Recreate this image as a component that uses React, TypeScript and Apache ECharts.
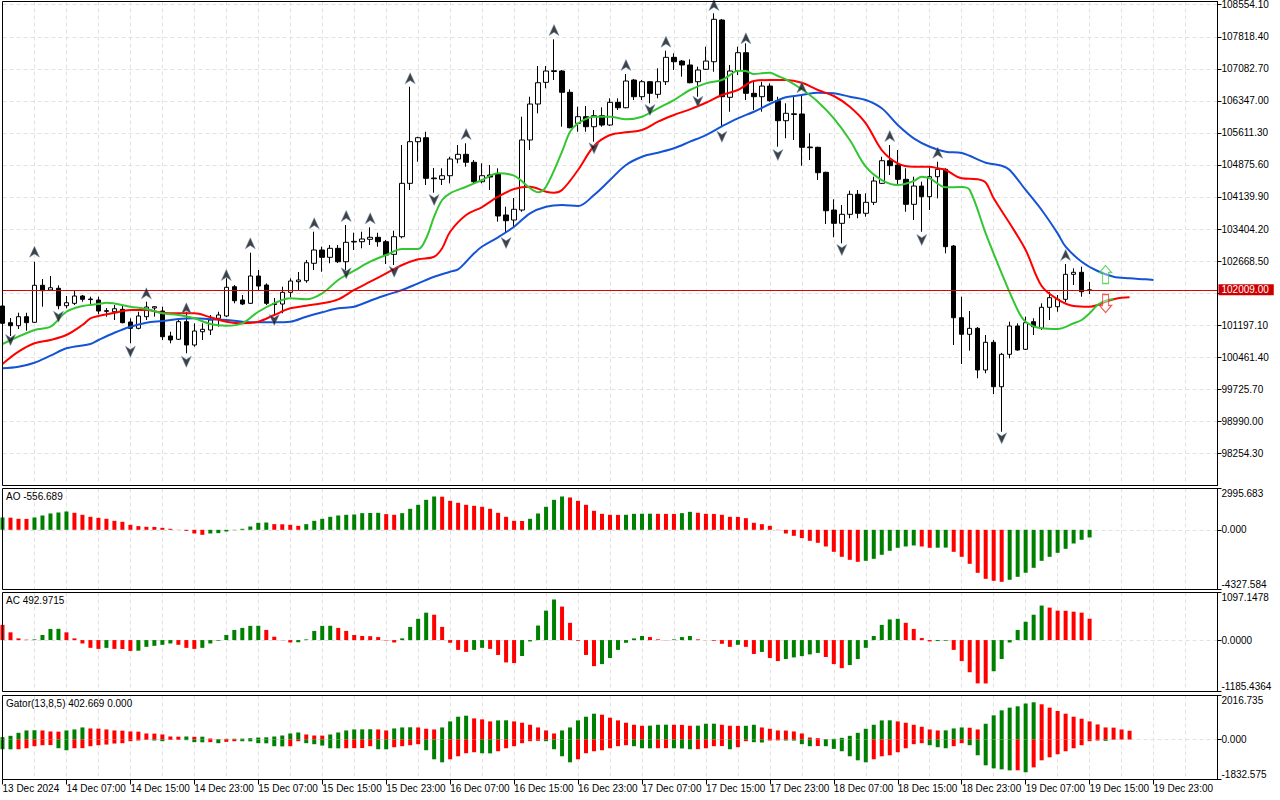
import React, { useEffect, useRef } from 'react';
import * as echarts from 'echarts';

// ---------- time slots (hourly bars, plus empty slots for the shifted Alligator lines) ----------
const START_DAY = 13;
const START_HOUR = 23;
const SLOT_COUNT = 153;
const CATEGORIES: string[] = [];
for (let i = 0; i < SLOT_COUNT; i++) {
  const h = START_HOUR + i;
  const d = START_DAY + Math.floor(h / 24);
  const hh = h % 24;
  CATEGORIES.push(i === 0 ? '13 Dec 2024' : `${d} Dec ${String(hh).padStart(2, '0')}:00`);
}
const LAST_LABEL_INDEX = 144;

// ---------- price candles: [open, close, low, high] ----------
const CANDLES: number[][] = [
  [101636, 101239, 101085, 101774], [101253, 101184, 100947, 101361], [101184, 101391, 101108, 101482],
  [101391, 101253, 101069, 101482], [101262, 102112, 101246, 102653], [102112, 101988, 101620, 102256],
  [102004, 102056, 101981, 102325], [102043, 101643, 101560, 102112], [101643, 101712, 101583, 101866],
  [101698, 101866, 101659, 101981], [101866, 101790, 101735, 101889], [101797, 101783, 101659, 101850],
  [101774, 101521, 101446, 101850], [101528, 101515, 101391, 101590], [101505, 101574, 101315, 101659],
  [101560, 101253, 101239, 101636], [101269, 101124, 100780, 101354], [101124, 101407, 101101, 101505],
  [101391, 101613, 101315, 101735], [101590, 101620, 101391, 101636], [101521, 100931, 100856, 101620],
  [100947, 100856, 100780, 101046], [100872, 101276, 100856, 101315], [101276, 100741, 100550, 101505],
  [100741, 101062, 100702, 101239], [101046, 101101, 100856, 101239], [101085, 101315, 100970, 101430],
  [101354, 101430, 101161, 101505], [101407, 102066, 101384, 102272], [102079, 101758, 101698, 102118],
  [101774, 101682, 101659, 101889], [101698, 102325, 101682, 102860], [102325, 102095, 102004, 102463],
  [102118, 101698, 101659, 102157], [101694, 101671, 101453, 101820], [101682, 101951, 101469, 102079],
  [101951, 102210, 101836, 102272], [102194, 102233, 102004, 102417], [102217, 102630, 102171, 102692],
  [102617, 102922, 102463, 103342], [102922, 102754, 102424, 102998], [102754, 102961, 102617, 103037],
  [102961, 102653, 102623, 103037], [102653, 103099, 102463, 103496], [103106, 103120, 102922, 103319],
  [103113, 103175, 102961, 103342], [103168, 103214, 103037, 103443], [103214, 103113, 102998, 103319],
  [103113, 102807, 102601, 103152], [102823, 103227, 102578, 103365], [103227, 104453, 103191, 105333],
  [104453, 105409, 104300, 106671], [105409, 105500, 104949, 105523], [105500, 104568, 104414, 105638],
  [104575, 104559, 104238, 104805], [104545, 104628, 104414, 104798], [104628, 105011, 104453, 105064],
  [105011, 105119, 104913, 105333], [105119, 104936, 104835, 105372], [104936, 104490, 104453, 104988],
  [104490, 104628, 104453, 104913], [104644, 104598, 104300, 104874], [104667, 103703, 103572, 104798],
  [103726, 103595, 103335, 103916], [103611, 103857, 103457, 104116], [103840, 105448, 103801, 105983],
  [105448, 106274, 105218, 106442], [106274, 106763, 106061, 107147], [106772, 107032, 106635, 107147],
  [107020, 107039, 106825, 107760], [107032, 106543, 105753, 107055], [106543, 105730, 105716, 106612],
  [105831, 105983, 105638, 106212], [105983, 105753, 105638, 106228], [105753, 106006, 105409, 106136],
  [106006, 105792, 105753, 106198], [105792, 106313, 105769, 106405], [106313, 106189, 106136, 106405],
  [106189, 106802, 106175, 106963], [106825, 106442, 106366, 106848], [106442, 106786, 106366, 106825],
  [106786, 106520, 106290, 106802], [106497, 106786, 106405, 107094], [106786, 107346, 106710, 107498],
  [107346, 107245, 107055, 107438], [107261, 107170, 106901, 107284], [107170, 106763, 106749, 107300],
  [106786, 107055, 106442, 107131], [107071, 107261, 107055, 107590], [107245, 108219, 107016, 108357],
  [108203, 106442, 105753, 108226], [106428, 107032, 106097, 107170], [107039, 107452, 106940, 107590],
  [107452, 106520, 106366, 107668], [106520, 106442, 106136, 106786], [106442, 106687, 106097, 106786],
  [106687, 106350, 106327, 106749], [106350, 105891, 105294, 106442], [105891, 106061, 105487, 106290],
  [106033, 106051, 105448, 106442], [106045, 105280, 104858, 106480], [105287, 105271, 104988, 105601],
  [105280, 104697, 104529, 105294], [104706, 103824, 103519, 104720], [103840, 103535, 103214, 104086],
  [103535, 103742, 103076, 103955], [103742, 104201, 103650, 104284], [104201, 103765, 103650, 104300],
  [103765, 104017, 103687, 104224], [104017, 104506, 103955, 104605], [104453, 104972, 104437, 105064],
  [104972, 104858, 104644, 105333], [104874, 104545, 104414, 105218], [104545, 103971, 103801, 104798],
  [103971, 104391, 103611, 104605], [104391, 104146, 103342, 104490], [104146, 104605, 103840, 104835],
  [104605, 104775, 104109, 104949], [104775, 102998, 102846, 104798], [103014, 101368, 100741, 103037],
  [101368, 100987, 100305, 101850], [100987, 101124, 100610, 101521], [101124, 100167, 99976, 101154],
  [100167, 100803, 100091, 100970], [100803, 99783, 99616, 100856], [99783, 100527, 98750, 100560],
  [100527, 101177, 100435, 101276], [101177, 100626, 100610, 101239], [100642, 101253, 100626, 101391],
  [101276, 101161, 100970, 101354], [101124, 101606, 101085, 101698], [101606, 101827, 101315, 101965],
  [101620, 101790, 101505, 101889], [101790, 102364, 101721, 102601], [102364, 102410, 102118, 102502],
  [102410, 101965, 101850, 102539], [101995, 102009, 101910, 102190],
];
const CURRENT_PRICE = 102009.0;

// ---------- Alligator lines, [bar index, price] ----------
const JAW: number[][] = [
  [0, 100206], [2, 100242], [4, 100334], [6, 100495], [8, 100665], [11, 100764], [12, 100856], [14, 101023],
  [16, 101161], [18, 101253], [20, 101292], [22, 101338], [24, 101354], [26, 101331], [28, 101315], [30, 101276],
  [32, 101262], [34, 101262], [36, 101276], [38, 101391], [40, 101492], [42, 101583], [44, 101620], [46, 101758],
  [48, 101889], [50, 102004], [52, 102157], [54, 102309], [56, 102424], [57, 102479], [58, 102653], [59, 102846],
  [60, 103002], [62, 103214], [64, 103457], [66, 103765], [68, 103916], [70, 103955], [72, 103932], [74, 104185],
  [76, 104529], [78, 104874], [80, 105064], [82, 105156], [84, 105257], [86, 105409], [88, 105562], [90, 105762],
  [92, 105946], [94, 106097], [96, 106274], [98, 106428], [100, 106481], [102, 106534], [104, 106520], [106, 106442],
  [108, 106366], [110, 106175], [112, 105792], [114, 105487], [116, 105294], [118, 105179], [120, 105149], [123, 104926],
  [125, 104858], [126, 104759], [128, 104300], [130, 103840], [132, 103305], [133, 102998], [135, 102653], [137, 102440],
  [139, 102309], [141, 102272], [143, 102249], [144, 102233],
];
const TEETH: number[][] = [
  [0, 100305], [2, 100587], [4, 100780], [6, 100856], [8, 100970], [10, 101200], [11, 101354], [12, 101407],
  [14, 101482], [16, 101544], [18, 101544], [20, 101482], [22, 101469], [24, 101469], [26, 101377], [28, 101276],
  [30, 101239], [32, 101276], [34, 101430], [36, 101583], [38, 101643], [40, 101698], [42, 101790], [44, 102004],
  [46, 102194], [48, 102387], [50, 102578], [52, 102708], [54, 102768], [55, 102961], [56, 103342], [58, 103726],
  [60, 103909], [62, 104146], [64, 104323], [66, 104375], [68, 104261], [69, 104238], [70, 104300], [72, 104759],
  [74, 105310], [76, 105562], [78, 105624], [80, 105677], [82, 105868], [84, 106022], [86, 106152], [88, 106304],
  [90, 106481], [92, 106596], [94, 106802], [96, 106825], [98, 106825], [100, 106763], [102, 106596], [104, 106458],
  [106, 106212], [108, 105831], [110, 105218], [112, 104913], [114, 104835], [116, 104835], [117, 104798], [118, 104759],
  [120, 104568], [122, 104545], [123, 104467], [124, 104109], [126, 103535], [128, 102922], [130, 102095], [132, 101790],
  [134, 101636], [136, 101620], [137, 101659], [138, 101735], [139, 101790], [140, 101827], [141, 101836],
];
const LIPS: number[][] = [
  [0, 100764], [4, 101085], [6, 101161], [8, 101505], [10, 101636], [12, 101682], [13, 101712], [16, 101620],
  [18, 101567], [20, 101469], [22, 101430], [24, 101354], [26, 101223], [28, 101184], [30, 101239], [32, 101505],
  [34, 101698], [36, 101813], [38, 101790], [40, 101928], [42, 102233], [44, 102447], [46, 102653], [48, 102807],
  [50, 102945], [52, 102945], [53, 103191], [54, 103687], [55, 104070], [56, 104224], [58, 104375], [60, 104529],
  [62, 104683], [64, 104628], [66, 104339], [67, 104247], [68, 104375], [70, 105179], [71, 105638], [72, 105831],
  [74, 105983], [76, 105983], [78, 105923], [80, 105983], [82, 106175], [84, 106366], [86, 106596], [88, 106749],
  [90, 106825], [91, 106940], [92, 107039], [93, 107032], [94, 106963], [95, 106979], [96, 106993], [97, 106917],
  [98, 106841], [100, 106612], [102, 106327], [104, 105946], [106, 105448], [108, 104835], [110, 104529], [112, 104414],
  [114, 104506], [115, 104605], [116, 104568], [118, 104362], [120, 104368], [121, 104300], [123, 103305], [125, 102387],
  [127, 101544], [128, 101276], [130, 101124], [132, 101108], [134, 101239], [135, 101315], [136, 101469], [137, 101659],
  [138, 101758], [139, 101790],
];

// ---------- fractal arrows, [bar index, price of the arrow] ----------
const FRACTALS_UP: number[][] = [
  [4, 102883], [18, 101928], [23, 101583], [28, 102348], [31, 103076], [39, 103535], [43, 103703], [46, 103650],
  [51, 106864], [58, 105585], [69, 107973], [78, 107170], [83, 107705], [89, 108547], [93, 107783], [100, 106658],
  [111, 105539], [117, 105156], [133, 102807],
];
const FRACTALS_DOWN: number[][] = [
  [1, 100856], [7, 101391], [16, 100587], [23, 100357], [34, 101315], [43, 102387], [49, 102424], [54, 104070],
  [63, 103083], [74, 105257], [81, 106136], [87, 106327], [90, 105523], [97, 105103], [105, 102922], [115, 103152],
  [125, 98599],
];
const SIGNAL_UP: number[][] = [[138, 102359]];
const SIGNAL_DOWN: number[][] = [[138, 101694]];

// ---------- Awesome Oscillator ----------
const AO_PREV = 850;
const AO: number[] = [
  894, 880, 798, 790, 894, 1039, 1184, 1257, 1329, 1233, 1088, 943, 870, 798, 653, 580, 363, 266, 218, 210,
  145, 73, 10, -73, -266, -363, -266, -240, -121, -24, 73, 242, 508, 530, 411, 400, 363, 290, 411, 653,
  798, 943, 1039, 1088, 1112, 1209, 1220, 1233, 1136, 1088, 1209, 1523, 1813, 2175, 2417, 2400, 2103, 1958, 1813, 1740,
  1668, 1523, 1233, 943, 653, 640, 798, 1184, 1668, 2175, 2417, 2345, 2103, 1813, 1378, 1160, 1088, 1080, 1090, 1160,
  1165, 1170, 1160, 1155, 1150, 1209, 1305, 1233, 1160, 1150, 1088, 943, 935, 846, 508, 411, 290, -20, -266, -435,
  -604, -798, -943, -1209, -1595, -1958, -2175, -2320, -2248, -2103, -1813, -1523, -1305, -1209, -1136, -1209, -1305, -1295, -1290, -1595,
  -1958, -2465, -3118, -3553, -3698, -3770, -3625, -3408, -3118, -2755, -2248, -1958, -1668, -1378, -991, -725, -556.689,
];
// ---------- Accelerator Oscillator ----------
const AC_PREV = 420;
const AC: number[] = [
  351, 179, 39, 10, 16, 117, 257, 260, 179, 39, -78, -179, -203, -179, -203, -206, -250, -245, -156, -133,
  -109, -78, -109, -179, -203, -179, -78, -16, 117, 234, 281, 328, 330, 234, 78, -5, -55, -50, 16, 211,
  328, 330, 281, 211, 117, 94, 90, 70, -10, -55, 39, 304, 491, 632, 585, 304, -62, -226, -273, -226,
  -179, -203, -343, -515, -530, -367, -31, 335, 679, 936, 772, 398, -16, -343, -601, -554, -413, -226, -62, 39,
  94, 70, 16, -5, 16, 70, 94, 16, -3, -16, -86, -156, -109, -156, -320, -273, -413, -484, -437, -400,
  -370, -330, -296, -390, -554, -648, -577, -437, -179, 94, 351, 476, 491, 398, 257, 47, -31, -23, -16, -226,
  -484, -741, -998, -1000, -718, -437, -55, 234, 421, 585, 796, 749, 679, 675, 655, 632, 492.9715,
];
// ---------- Gator Oscillator ----------
const GATOR_UP_PREV = 90;
const GATOR_UP: number[] = [
  108, 169, 307, 415, 425, 415, 369, 360, 415, 461, 553, 507, 500, 461, 415, 405, 369, 360, 277, 270,
  231, 138, 130, 138, 125, 130, 46, 20, 31, 35, 40, 61, 92, 100, 138, 184, 277, 323, 231, 184,
  180, 231, 323, 415, 461, 465, 470, 461, 415, 507, 553, 560, 553, 492, 461, 553, 830, 1045, 1091, 968,
  922, 830, 876, 880, 830, 768, 676, 553, 415, 277, 415, 553, 876, 1045, 1183, 1137, 999, 876, 768, 676,
  630, 635, 676, 680, 676, 670, 630, 635, 722, 725, 676, 630, 625, 630, 676, 553, 492, 415, 410, 369,
  277, 92, 61, 20, 31, 77, 169, 307, 492, 676, 876, 880, 830, 768, 676, 584, 461, 415, 420, 507,
  553, 538, 461, 722, 1107, 1337, 1460, 1522, 1645, 1706, 1614, 1460, 1306, 1183, 1045, 953, 830, 692, 553, 545,
  461, 402.669,
];
const GATOR_LO_PREV = -420;
const GATOR_LO: number[] = [
  -446, -450, -446, -400, -307, -261, -255, -400, -492, -400, -395, -307, -261, -231, -184, -169, -77, -46, -15, -46,
  -77, -20, -15, -30, -123, -128, -120, -169, -108, -77, -80, -85, -169, -175, -307, -315, -307, -77, -169, -215,
  -277, -400, -405, -400, -395, -390, -307, -446, -450, -354, -307, -261, -215, -492, -907, -1045, -907, -768, -630, -584,
  -630, -635, -538, -400, -307, -169, -77, -61, -77, -446, -768, -1045, -907, -630, -538, -492, -400, -307, -261, -307,
  -400, -405, -400, -395, -400, -410, -446, -440, -400, -307, -300, -446, -354, -77, -123, -138, -46, -40, -46, -50,
  -215, -307, -300, -307, -430, -538, -768, -953, -1045, -907, -768, -722, -584, -400, -215, -169, -261, -354, -400, -307,
  -169, -261, -722, -1183, -1322, -1368, -1414, -1410, -1506, -1276, -953, -815, -676, -538, -400, -261, -77, -46, -61, -12,
];

// ---------- axis ticks ----------
const PRICE_MIN = 97515;
const PRICE_MAX = 108628;
const PRICE_TICKS = [
  108554.1, 107818.4, 107082.7, 106347.0, 105611.3, 104875.6, 104139.9, 103404.2, 102668.5, 101932.8,
  101197.1, 100461.4, 99725.7, 98990.0, 98254.3,
];
// the 101932.80 label sits under the current-price box, so only its tick and grid line are drawn
const PRICE_LABELS = PRICE_TICKS.filter((v) => Math.abs(v - 101932.8) > 1);
const AO_RANGE = [-4327.584, 2995.683];
const AC_RANGE = [-1185.4364, 1097.1478];
const GATOR_RANGE = [-1832.575, 2016.735];

const PANEL_TITLES = ['AO -556.689', 'AC 492.9715', 'Gator(13,8,5) 402.669 0.000'];

const GREEN = '#008000';
const RED = '#ff0000';
const FONT = '"Liberation Sans", Arial, sans-serif';
const FONT_SIZE = 10;
const GRID_LINE = '#e2e2e2';

const PANELS = [
  { top: 1.5, height: 484 },
  { top: 488.5, height: 101 },
  { top: 592.5, height: 99 },
  { top: 695.5, height: 84 },
];
const PLOT_LEFT = 2.5;
const PLOT_WIDTH = 1215;

function colored(values: number[], prev: number, useAbs: boolean) {
  return values.map((v, i) => {
    const p = i === 0 ? prev : values[i - 1];
    const up = useAbs ? Math.abs(v) > Math.abs(p) : v > p;
    return { value: v, itemStyle: { color: up ? GREEN : RED } };
  });
}

function buildOption(): any {
  const grids = PANELS.map((p) => ({
    left: PLOT_LEFT,
    top: p.top,
    width: PLOT_WIDTH,
    height: p.height,
    containLabel: false,
    outerBoundsMode: 'none',
    show: false,
  }));

  const xAxes = PANELS.map((_, k) => {
    const last = k === PANELS.length - 1;
    return {
      type: 'category',
      gridIndex: k,
      position: 'bottom',
      data: CATEGORIES,
      boundaryGap: false,
      axisLine: { show: false, onZero: false },
      axisTick: {
        show: last,
        interval: (i: number) => i % 8 === 0 && i <= LAST_LABEL_INDEX,
        length: 5,
        lineStyle: { color: '#000', width: 1 },
      },
      axisLabel: {
        show: last,
        interval: (i: number) => i % 8 === 0 && i <= LAST_LABEL_INDEX,
        align: 'left',
        margin: 4,
        fontSize: FONT_SIZE,
        fontFamily: FONT,
        color: '#000',
        hideOverlap: false,
      },
      splitLine: {
        show: true,
        interval: (i: number) => i % 4 === 0,
        lineStyle: { color: GRID_LINE, type: [4, 3], width: 1 },
      },
    };
  });

  const subAxis = (k: number, range: number[], digits: number) => {
    const vals = [range[0], 0, range[1]];
    return {
      type: 'value',
      gridIndex: k,
      position: 'right',
      min: range[0],
      max: range[1],
      axisLine: { show: true, onZero: false, lineStyle: { color: '#000' } },
      axisTick: { show: true, customValues: vals, length: 4, lineStyle: { color: '#000' } },
      axisLabel: {
        customValues: vals,
        formatter: (v: number) => v.toFixed(digits),
        fontSize: FONT_SIZE,
        fontFamily: FONT,
        color: '#000',
        margin: 4,
        verticalAlignMinLabel: 'bottom',
        verticalAlignMaxLabel: 'top',
      },
      splitLine: { show: true, lineStyle: { color: GRID_LINE, type: [4, 3] } },
    };
  };

  const yAxes = [
    {
      type: 'value',
      gridIndex: 0,
      position: 'right',
      min: PRICE_MIN,
      max: PRICE_MAX,
      axisLine: { show: true, onZero: false, lineStyle: { color: '#000' } },
      axisTick: { show: true, customValues: PRICE_TICKS, length: 4, lineStyle: { color: '#000' } },
      axisLabel: {
        customValues: PRICE_LABELS,
        formatter: (v: number) => v.toFixed(2),
        fontSize: FONT_SIZE,
        fontFamily: FONT,
        color: '#000',
        margin: 4,
      },
      splitLine: { show: true, lineStyle: { color: GRID_LINE, type: [4, 3] } },
    },
    subAxis(1, AO_RANGE, 3),
    subAxis(2, AC_RANGE, 4),
    subAxis(3, GATOR_RANGE, 3),
  ];

  const line = (data: number[][], color: string) => ({
    type: 'line',
    xAxisIndex: 0,
    yAxisIndex: 0,
    data,
    smooth: 0.35,
    showSymbol: false,
    symbol: 'none',
    silent: true,
    z: 4,
    lineStyle: { color, width: 2 },
  });

  const fractal = (data: number[][], path: string) => ({
    type: 'scatter',
    xAxisIndex: 0,
    yAxisIndex: 0,
    data,
    symbol: path,
    symbolSize: [10, 11],
    silent: true,
    z: 6,
    itemStyle: { color: '#111', borderColor: '#6d8fc0', borderWidth: 0.6 },
  });

  const series: any[] = [
    {
      type: 'candlestick',
      xAxisIndex: 0,
      yAxisIndex: 0,
      data: CANDLES,
      barWidth: 5,
      silent: true,
      z: 3,
      itemStyle: { color: '#ffffff', color0: '#000000', borderColor: '#000000', borderColor0: '#000000', borderWidth: 1 },
      markLine: {
        symbol: 'none',
        silent: true,
        animation: false,
        data: [{ yAxis: CURRENT_PRICE }],
        lineStyle: { color: '#e00000', width: 1, type: 'solid' },
        label: {
          show: true,
          position: 'end',
          formatter: () => CURRENT_PRICE.toFixed(2),
          backgroundColor: '#cc0000',
          color: '#ffffff',
          padding: [1, 5, 0, 3],
          distance: 1,
          fontSize: FONT_SIZE,
          fontFamily: FONT,
        },
      },
    },
    line(JAW, '#1553d6'),
    line(TEETH, '#ff0000'),
    line(LIPS, '#33c633'),
    fractal(FRACTALS_UP, 'path://M5,0 L10,10 L5,7 L0,10 Z'),
    fractal(FRACTALS_DOWN, 'path://M5,10 L10,0 L5,3 L0,0 Z'),
    {
      type: 'scatter',
      xAxisIndex: 0,
      yAxisIndex: 0,
      data: SIGNAL_UP,
      symbol: 'path://M6,0 L12,7 L9,7 L9,18 L3,18 L3,7 L0,7 Z',
      symbolSize: [12, 18],
      silent: true,
      z: 7,
      itemStyle: { color: 'rgba(255,255,255,0.5)', borderColor: '#3ccf3c', borderWidth: 1.2 },
    },
    {
      type: 'scatter',
      xAxisIndex: 0,
      yAxisIndex: 0,
      data: SIGNAL_DOWN,
      symbol: 'path://M3,0 L9,0 L9,11 L12,11 L6,18 L0,11 L3,11 Z',
      symbolSize: [12, 18],
      silent: true,
      z: 7,
      itemStyle: { color: 'rgba(255,255,255,0.5)', borderColor: '#f03030', borderWidth: 1.2 },
    },
    {
      type: 'bar',
      xAxisIndex: 1,
      yAxisIndex: 1,
      data: colored(AO, AO_PREV, false),
      barWidth: 4,
      silent: true,
    },
    {
      type: 'bar',
      xAxisIndex: 2,
      yAxisIndex: 2,
      data: colored(AC, AC_PREV, false),
      barWidth: 4,
      silent: true,
    },
    {
      type: 'bar',
      xAxisIndex: 3,
      yAxisIndex: 3,
      data: colored(GATOR_UP, GATOR_UP_PREV, true),
      barWidth: 4,
      barGap: '-100%',
      silent: true,
    },
    {
      type: 'bar',
      xAxisIndex: 3,
      yAxisIndex: 3,
      data: colored(GATOR_LO, GATOR_LO_PREV, true),
      barWidth: 4,
      barGap: '-100%',
      silent: true,
    },
  ];

  const graphic: any[] = [];
  PANELS.forEach((p) => {
    graphic.push({
      type: 'rect',
      silent: true,
      z: 100,
      shape: { x: PLOT_LEFT, y: p.top, width: PLOT_WIDTH, height: p.height },
      style: { fill: 'none', stroke: '#000', lineWidth: 1 },
    });
  });
  PANEL_TITLES.forEach((t, k) => {
    const p = PANELS[k + 1];
    graphic.push({
      type: 'text',
      silent: true,
      z: 101,
      left: 6,
      top: p.top + 3,
      style: { text: t, fill: '#000', font: `${FONT_SIZE}px ${FONT}` },
    });
  });

  return {
    animation: false,
    backgroundColor: '#ffffff',
    textStyle: { fontFamily: FONT },
    grid: grids,
    xAxis: xAxes,
    yAxis: yAxes,
    series,
    graphic,
  };
}

export default function App() {
  const ref = useRef<HTMLDivElement>(null);
  useEffect(() => {
    document.body.style.margin = '0';
    if (!ref.current) return;
    const chart = echarts.init(ref.current, null, { renderer: 'svg' });
    chart.setOption(buildOption());
    return () => chart.dispose();
  }, []);
  return (
    <div
      ref={ref}
      style={{ position: 'absolute', left: 0, top: 0, width: 1280, height: 800, background: '#fff' }}
    />
  );
}
